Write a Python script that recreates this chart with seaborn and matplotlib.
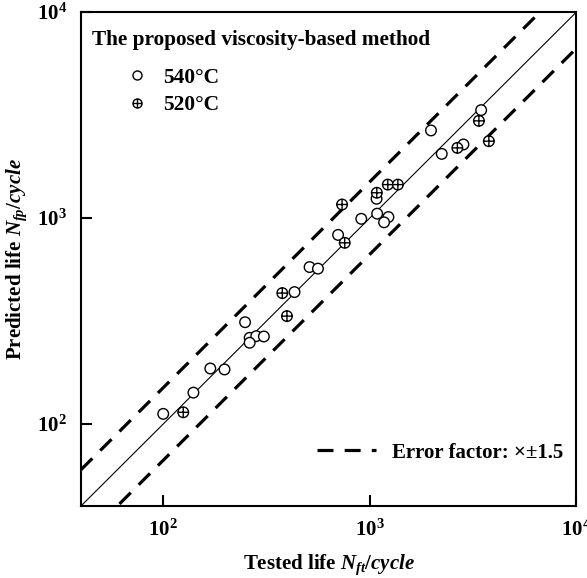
import numpy as np
import seaborn as sns
import matplotlib.pyplot as plt
import pandas as pd
from matplotlib.path import Path
from matplotlib.lines import Line2D

# tested / predicted life, 540°C (open circles)
tested_540 = [100, 140, 169, 198, 249, 262, 282, 307, 262, 432, 511, 561,
              702, 909, 1085, 1078, 1230, 1172, 1977, 2229, 2838, 3458]
pred_540 = [112, 142, 186, 184, 312, 262, 267, 266, 248, 437, 578, 568,
            828, 991, 1050, 1240, 1011, 953, 2661, 2048, 2275, 3341]
# 520°C (crossed circles)
tested_520 = [125, 377, 397, 734, 756, 1081, 1222, 1367, 2653, 3372, 3768]
pred_520 = [114, 432, 334, 1163, 758, 1326, 1453, 1453, 2190, 2963, 2360]

lims = [40, 1e4]
err = 1.5

sns.set_style("ticks")
plt.rcParams['font.family'] = ['Liberation Serif', 'DejaVu Serif']
plt.rcParams['font.weight'] = 'bold'
plt.rcParams['text.color'] = 'black'
plt.rcParams['axes.labelcolor'] = 'black'
plt.rcParams['mathtext.fontset'] = 'custom'
plt.rcParams['mathtext.rm'] = 'Liberation Serif:bold'
plt.rcParams['mathtext.bf'] = 'Liberation Serif:bold'
plt.rcParams['mathtext.it'] = 'Liberation Serif:italic:bold'

df = pd.concat([
    pd.DataFrame({'tested': tested_540, 'pred': pred_540, 'temp': '540°C'}),
    pd.DataFrame({'tested': tested_520, 'pred': pred_520, 'temp': '520°C'}),
])

# circle with a plus inside
plus = Path([[-1, 0], [1, 0], [0, -1], [0, 1]],
            [Path.MOVETO, Path.LINETO, Path.MOVETO, Path.LINETO])
oplus = Path.make_compound_path(Path.unit_circle(), plus)
mk = {'540°C': 'o', '520°C': oplus}

fig = plt.figure(figsize=(5.87, 5.78), dpi=100)
ax = fig.add_axes([0.138, 0.1246, 0.844, 0.8546])

ax.plot(lims, lims, color='black', lw=0.8, zorder=1)
ax.plot(lims, [lims[0] * err, lims[1] * err], color='black', lw=2.3,
        ls=(0, (5, 3.5)), zorder=1)
ax.plot(lims, [lims[0] / err, lims[1] / err], color='black', lw=2.3,
        ls=(0, (5, 3.5)), zorder=1)

sns.scatterplot(data=df, x='tested', y='pred', style='temp', markers=mk,
                s=58, color='white', edgecolor='black', linewidth=1.0,
                legend=False, ax=ax, zorder=3)

ax.set_xscale('log')
ax.set_yscale('log')
ax.set_xlim(lims)
ax.set_ylim(lims)
ax.set_xticks([1e2, 1e3, 1e4])
ax.set_yticks([1e2, 1e3, 1e4])
ax.set_xticklabels([r'$\mathbf{10^{2}}$', r'$\mathbf{10^{3}}$', r'$\mathbf{10^{4}}$'])
ax.set_yticklabels([r'$\mathbf{10^{2}}$', r'$\mathbf{10^{3}}$', r'$\mathbf{10^{4}}$'])
ax.minorticks_off()
ax.tick_params(direction='in', length=8, width=1.5, labelsize=15, pad=10,
               colors='black')
for s in ax.spines.values():
    s.set_linewidth(1.5)
    s.set_color('black')

ax.set_xlabel(r'Tested life $N_{ft}/cycle$', fontsize=15, fontweight='bold',
              labelpad=8)
ax.set_ylabel(r'Predicted life $N_{fp}/cycle$', fontsize=15, fontweight='bold',
              labelpad=6)

ax.text(0.022, 0.943, 'The proposed viscosity-based method', transform=ax.transAxes,
        fontsize=15.3, fontweight='bold', va='center', ha='left')
h1 = [Line2D([], [], ls='none', marker='o', ms=6.5, mfc='white', mec='black',
             mew=1.0),
      Line2D([], [], ls='none', marker=oplus, ms=6.5, mfc='white', mec='black',
             mew=1.0)]
leg1 = ax.legend(h1, ['540°C', '520°C'], loc='upper left',
                 bbox_to_anchor=(0.052, 0.926), frameon=False,
                 prop={'size': 15.5, 'weight': 'bold'}, handletextpad=0.7,
                 labelspacing=0.33, handlelength=1.0)
ax.add_artist(leg1)

h2 = [Line2D([], [], color='black', lw=2.3, ls=(0, (5, 3.5)))]
ax.legend(h2, ['Error factor: ×±1.5'], loc='lower right',
          bbox_to_anchor=(1.012, 0.05), frameon=False,
          prop={'size': 15, 'weight': 'bold'}, handlelength=2.8,
          handletextpad=0.8)

fig.savefig('out.png', dpi=100)
